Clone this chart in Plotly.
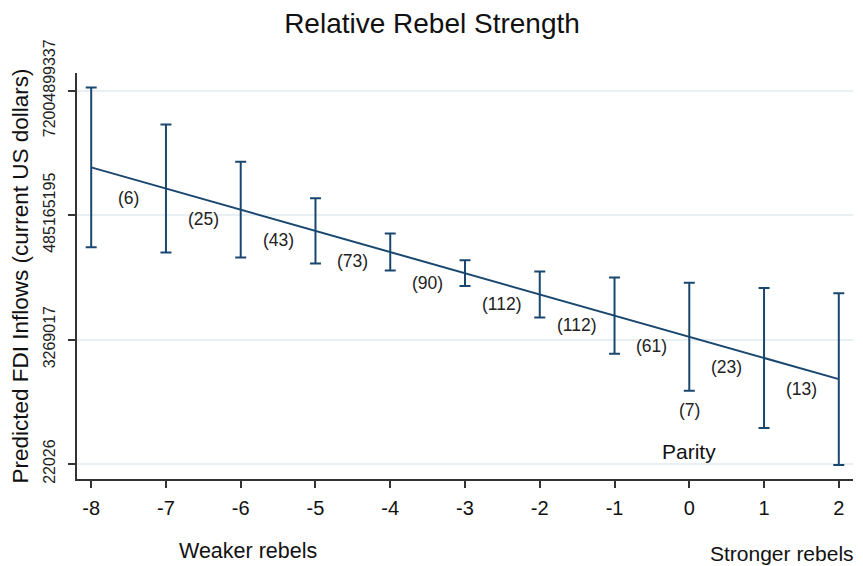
import numpy as np
import plotly.graph_objects as go

# ---- data ----
rebel_strength = [-8, -7, -6, -5, -4, -3, -2, -1, 0, 1, 2]
xtick_labels = ["-8", "-7", "-6", "-5", "-4", "-3", "-2", "-1", "0", "1", "2"]
# predicted ln(FDI inflows) and half-width of the 95% CI on the ln scale
pred_ln = [21.92, 21.07, 20.22, 19.37, 18.52, 17.67, 16.81, 15.96, 15.11, 14.26, 13.41]
ci_half_ln = [3.21, 2.57, 1.92, 1.31, 0.74, 0.52, 0.92, 1.53, 2.17, 2.81, 3.45]
# observation counts shown between consecutive strength values
between_counts = [6, 25, 43, 73, 90, 112, 112, 61, 23, 13]
parity_count = 7
ytick_ln = [10, 15, 20, 25]
ytick_labels = ["22026", "3269017", "485165195", "72004899337"]

NAVY = "#1a476f"
FONT = "Liberation Sans, Arial, sans-serif"

pred = np.exp(pred_ln)
upper = np.exp(np.array(pred_ln) + np.array(ci_half_ln))
lower = np.exp(np.array(pred_ln) - np.array(ci_half_ln))

fig = go.Figure()
fig.add_trace(go.Scatter(
    x=rebel_strength, y=pred, mode="lines",
    line=dict(color=NAVY, width=2),
    error_y=dict(type="data", symmetric=False, array=upper - pred,
                 arrayminus=pred - lower, color=NAVY, thickness=2, width=5.5),
    showlegend=False, hoverinfo="skip",
))

# the page body adds an 8px offset, so the figure is 8px smaller than the window
W, H = 855, 558
ml, mr, mt, mb = 69, 10, 65, 87
pw, ph = W - ml - mr, H - mt - mb

ann = []
for i, c in enumerate(between_counts):
    xm = (rebel_strength[i] + rebel_strength[i + 1]) / 2
    ym = (pred_ln[i] + pred_ln[i + 1]) / 2 / np.log(10)
    ann.append(dict(x=xm, y=ym, text=f"({c})", showarrow=False, yshift=-20,
                    font=dict(size=17.5, color="#222222", family=FONT)))
i0 = rebel_strength.index(0)
ann.append(dict(x=0, y=np.log10(lower[i0]), text=f"({parity_count})", showarrow=False,
                yanchor="top", yshift=-7, font=dict(size=17.5, color="#222222", family=FONT)))
ann.append(dict(x=0, y=ytick_ln[0] / np.log(10), text="Parity", showarrow=False,
                yanchor="bottom", yshift=-1, font=dict(size=21, color="#111111", family=FONT)))
ann.append(dict(x=(240 - ml) / pw, y=(H - mb - 543) / ph, xref="paper", yref="paper",
                xanchor="center", yanchor="middle", text="Weaker rebels",
                showarrow=False, font=dict(size=21.5, color="#111111", family=FONT)))
ann.append(dict(x=(774 - ml) / pw, y=(H - mb - 545) / ph, xref="paper", yref="paper",
                xanchor="center", yanchor="middle", text="Stronger rebels",
                showarrow=False, font=dict(size=21, color="#111111", family=FONT)))

ymin_ln, ymax_ln = 9.397, 25.711
fig.update_layout(
    width=W, height=H,
    margin=dict(l=ml, r=mr, t=mt, b=mb, autoexpand=False),
    paper_bgcolor="white", plot_bgcolor="white",
    title=dict(text="Relative Rebel Strength", x=(432 - 8) / W, xanchor="center",
               y=1 - 15 / H, yanchor="middle",
               font=dict(size=28, color="#111111", family=FONT)),
    font=dict(family=FONT, color="#111111"),
    annotations=ann,
    xaxis=dict(range=[-8.19, 2.19], tickvals=rebel_strength, ticktext=xtick_labels,
               ticks="outside", ticklen=7, automargin=False, ticklabelstandoff=3,
               tickwidth=1.5, tickcolor="#333333", showline=True, linecolor="#333333",
               linewidth=1.5, showgrid=False, zeroline=False,
               tickfont=dict(size=20, color="#111111", family=FONT)),
    yaxis=dict(type="log", range=[ymin_ln / np.log(10), ymax_ln / np.log(10)],
               tickvals=list(np.exp(ytick_ln)), ticktext=ytick_labels, tickangle=-90,
               ticks="outside", ticklen=7, tickwidth=1.5, tickcolor="#333333",
               ticklabelstandoff=7, automargin=False,
               showline=True, linecolor="#333333", linewidth=1.5,
               showgrid=True, gridcolor="#e8f0f3", gridwidth=1.5, zeroline=False,
               tickfont=dict(size=16, color="#222222", family=FONT),
               title=dict(text="Predicted FDI Inflows (current US dollars)", standoff=20,
                          font=dict(size=22.5, color="#111111", family=FONT))),
)

fig.write_html("out.html")
